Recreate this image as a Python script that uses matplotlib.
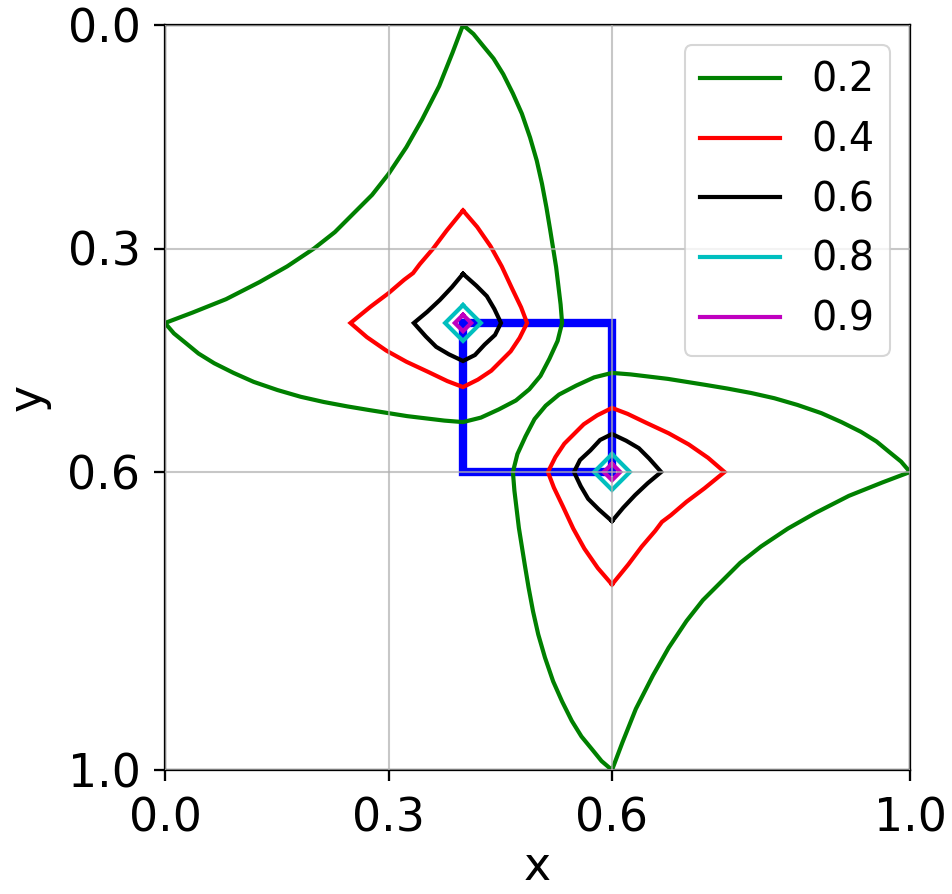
import matplotlib.pyplot as plt

# contour levels shown in the legend
levels = ['0.2', '0.4', '0.6', '0.8', '0.9']
colors = ['g', 'r', 'k', 'c', 'm']

# level curves around the first point (0.4, 0.4)
g1_x = [0.400, 0.414, 0.427, 0.441, 0.454, 0.467, 0.479, 0.490, 0.499, 0.506, 0.512, 0.517, 0.521, 0.525, 0.528, 0.531, 0.533,
        0.527, 0.516, 0.504, 0.489, 0.471, 0.448, 0.424, 0.400,
        0.375, 0.350, 0.325, 0.300, 0.275, 0.245, 0.213, 0.182, 0.151, 0.119, 0.092, 0.066, 0.045, 0.028, 0.012, 0.000,
        0.037, 0.082, 0.127, 0.164, 0.200, 0.228, 0.253, 0.278, 0.300, 0.324, 0.345, 0.368, 0.386, 0.400]
g1_y = [0.000, 0.012, 0.028, 0.045, 0.066, 0.092, 0.119, 0.151, 0.182, 0.213, 0.245, 0.275, 0.300, 0.325, 0.350, 0.375, 0.400,
        0.424, 0.448, 0.471, 0.489, 0.504, 0.516, 0.527, 0.533,
        0.531, 0.528, 0.525, 0.521, 0.517, 0.512, 0.506, 0.499, 0.490, 0.479, 0.467, 0.454, 0.441, 0.427, 0.414, 0.400,
        0.386, 0.368, 0.345, 0.324, 0.300, 0.278, 0.253, 0.228, 0.200, 0.164, 0.127, 0.082, 0.037, 0.000]

r1_x = [0.400, 0.419, 0.437, 0.452, 0.466, 0.478, 0.486,
        0.476, 0.464, 0.451, 0.438, 0.420, 0.400,
        0.379, 0.354, 0.324, 0.297, 0.271, 0.249,
        0.276, 0.300, 0.321, 0.333, 0.342, 0.360, 0.378, 0.400]
r1_y = [0.249, 0.271, 0.297, 0.324, 0.354, 0.379, 0.400,
        0.420, 0.438, 0.451, 0.464, 0.476, 0.486,
        0.478, 0.466, 0.452, 0.437, 0.419, 0.400,
        0.378, 0.360, 0.342, 0.333, 0.321, 0.300, 0.276, 0.249]

k1_x = [0.400, 0.418, 0.432, 0.442, 0.451, 0.443, 0.429, 0.416, 0.400,
        0.381, 0.364, 0.350, 0.334, 0.352, 0.369, 0.385, 0.400]
k1_y = [0.334, 0.350, 0.364, 0.381, 0.400, 0.416, 0.429, 0.443, 0.451,
        0.442, 0.432, 0.418, 0.400, 0.385, 0.369, 0.352, 0.334]

c1_x = [0.400, 0.424, 0.400, 0.376, 0.400]
c1_y = [0.376, 0.400, 0.424, 0.400, 0.376]

m1_x = [0.400, 0.411, 0.400, 0.389, 0.400]
m1_y = [0.389, 0.400, 0.411, 0.400, 0.389]

# level curves around the second point (0.6, 0.6)
g2_x = [0.600, 0.586, 0.573, 0.559, 0.546, 0.533, 0.521, 0.510, 0.501, 0.494, 0.488, 0.483, 0.479, 0.475, 0.472, 0.469, 0.467,
        0.473, 0.484, 0.496, 0.511, 0.529, 0.552, 0.576, 0.600,
        0.625, 0.650, 0.675, 0.700, 0.725, 0.755, 0.787, 0.818, 0.849, 0.881, 0.908, 0.934, 0.955, 0.972, 0.988, 1.000,
        0.963, 0.918, 0.873, 0.836, 0.800, 0.772, 0.747, 0.722, 0.700, 0.676, 0.655, 0.632, 0.614, 0.600]
g2_y = [1.000, 0.988, 0.972, 0.955, 0.934, 0.908, 0.881, 0.849, 0.818, 0.787, 0.755, 0.725, 0.700, 0.675, 0.650, 0.625, 0.600,
        0.576, 0.552, 0.529, 0.511, 0.496, 0.484, 0.473, 0.467,
        0.469, 0.472, 0.475, 0.479, 0.483, 0.488, 0.494, 0.501, 0.510, 0.521, 0.533, 0.546, 0.559, 0.573, 0.586, 0.600,
        0.614, 0.632, 0.655, 0.676, 0.700, 0.722, 0.747, 0.772, 0.800, 0.836, 0.873, 0.918, 0.963, 1.000]

r2_x = [0.600, 0.581, 0.563, 0.548, 0.534, 0.522, 0.514,
        0.524, 0.536, 0.549, 0.562, 0.580, 0.600,
        0.621, 0.646, 0.676, 0.703, 0.729, 0.751,
        0.724, 0.700, 0.679, 0.667, 0.658, 0.640, 0.622, 0.600]
r2_y = [0.751, 0.729, 0.703, 0.676, 0.646, 0.621, 0.600,
        0.580, 0.562, 0.549, 0.536, 0.524, 0.514,
        0.522, 0.534, 0.548, 0.563, 0.581, 0.600,
        0.622, 0.640, 0.658, 0.667, 0.679, 0.700, 0.724, 0.751]

k2_x = [0.600, 0.582, 0.568, 0.558, 0.549, 0.557, 0.571, 0.584, 0.600,
        0.619, 0.636, 0.650, 0.666, 0.648, 0.631, 0.615, 0.600]
k2_y = [0.666, 0.650, 0.636, 0.619, 0.600, 0.584, 0.571, 0.557, 0.549,
        0.558, 0.568, 0.582, 0.600, 0.615, 0.631, 0.648, 0.666]

c2_x = [0.600, 0.624, 0.600, 0.576, 0.600]
c2_y = [0.576, 0.600, 0.624, 0.600, 0.576]

m2_x = [0.600, 0.611, 0.600, 0.589, 0.600]
m2_y = [0.589, 0.600, 0.611, 0.600, 0.589]

# path between the two points
path_x = [0.4, 0.6, 0.6, 0.4, 0.4]
path_y = [0.4, 0.4, 0.6, 0.6, 0.4]

ticks = [0.0, 0.3, 0.6, 1.0]
tick_labels = ['0.0', '0.3', '0.6', '1.0']

fig = plt.figure(figsize=(952 / 150, 894 / 150), dpi=150)
ax = fig.add_axes([165 / 952, 1 - 770 / 894, 745 / 952, 745 / 894])

ax.plot(path_x, path_y, color='b', lw=4, solid_joinstyle='miter', zorder=1)

curves1 = [(g1_x, g1_y), (r1_x, r1_y), (k1_x, k1_y), (c1_x, c1_y), (m1_x, m1_y)]
curves2 = [(g2_x, g2_y), (r2_x, r2_y), (k2_x, k2_y), (c2_x, c2_y), (m2_x, m2_y)]
for (x1, y1), (x2, y2), col, lab in zip(curves1, curves2, colors, levels):
    ax.plot(x1, y1, color=col, lw=2, solid_joinstyle='miter', label=lab)
    ax.plot(x2, y2, color=col, lw=2, solid_joinstyle='miter')

ax.set_xlim(0, 1)
ax.set_ylim(1, 0)
ax.set_xticks(ticks)
ax.set_xticklabels(tick_labels)
ax.set_yticks(ticks)
ax.set_yticklabels(tick_labels)
ax.tick_params(labelsize=22, length=5.5, width=1.1)
ax.tick_params(axis='x', pad=7)
ax.tick_params(axis='y', pad=6.3)
for s in ax.spines.values():
    s.set_linewidth(1.1)

ax.set_axisbelow(False)
ax.grid(True, color='#b0b0b0', alpha=0.7, lw=1)

ax.set_xlabel('x', fontsize=22, labelpad=2)
ax.set_ylabel('y', fontsize=22, labelpad=8)
ax.legend(loc='upper right', fontsize=19)

fig.savefig('out.png', dpi=150)
